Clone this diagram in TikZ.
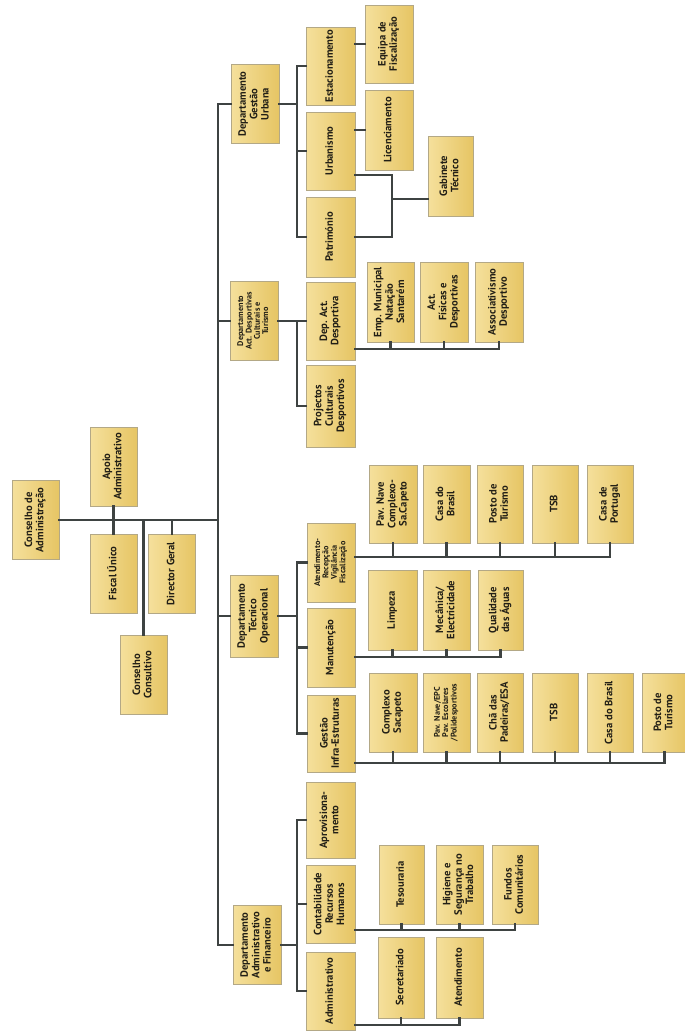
\documentclass[tikz,border=0pt]{standalone}
\usepackage{fontspec}
\setmainfont{PT Sans}
\usepackage{graphicx}
\usetikzlibrary{calc}
\definecolor{orgFillL}{HTML}{F5E09C}
\definecolor{orgFillR}{HTML}{E6C564}
\definecolor{orgEdge}{HTML}{B3A886}
\definecolor{orgLine}{HTML}{3E4342}
\definecolor{orgText}{HTML}{221F16}
\newcommand{\vt}[1]{\rotatebox{90}{\renewcommand{\arraystretch}{0.9}\begin{tabular}{@{}c@{}}#1\end{tabular}}}
\tikzset{
  unit/.style={
    draw=orgEdge, line width=0.4pt, left color=orgFillL, right color=orgFillR,
    minimum width=47pt, minimum height=79pt, inner sep=1pt,
    font=\fontsize{10.6}{12.6}\selectfont\bfseries, text=orgText
  },
  smallunit/.style={unit, font=\fontsize{8.2}{9.2}\selectfont\bfseries},
  link/.style={draw=orgLine, line width=2.3pt, line cap=rect}
}
\begin{document}
\begin{tikzpicture}[x=1pt, y=-1pt]
  \useasboundingbox[fill=white] (0,0) rectangle (685,1036);

  % topo
  \node[unit] (ca) at (35.5,520) {\vt{Conselho de\\Administração}};
  \node[unit] (apoio) at (113.5,466.5) {\vt{Apoio\\Administrativo}};
  \node[unit] (fiscal) at (113.5,573.5) {\vt{Fiscal Único}};
  \node[unit] (dg) at (172,573.5) {\vt{Director Geral}};
  \node[unit] (cc) at (143.5,675) {\vt{Conselho\\Consultivo}};

  % departamentos
  \node[unit, minimum width=48pt] (dgu) at (255,104) {\vt{Departamento\\Gestão\\Urbana}};
  \node[smallunit, minimum width=48pt] (dad) at (254,321) {\vt{Departamento\\Act. Desportivas\\Culturais e\\Turismo}};
  \node[unit, minimum width=48pt, minimum height=82pt] (dto) at (254,616) {\vt{Departamento\\Técnico\\Operacional}};
  \node[unit, minimum width=48pt] (daf) at (257,945) {\vt{Departamento\\Administrativo\\e Financeiro}};

  % gestao urbana
  \node[unit, minimum width=49pt, minimum height=78pt] (est) at (330.5,66) {\vt{Estacionamento}};
  \node[unit, minimum width=49pt, minimum height=78pt] (urb) at (330.5,151) {\vt{Urbanismo}};
  \node[unit, minimum width=49pt, minimum height=80pt] (pat) at (330.5,237) {\vt{Património}};
  \node[unit, minimum width=48pt, minimum height=78pt] (eqf) at (389,44) {\vt{Equipa de\\Fiscalização}};
  \node[unit, minimum width=48pt, minimum height=80pt] (lic) at (389,130) {\vt{Licenciamento}};
  \node[unit, minimum width=45pt, minimum height=80pt] (gab) at (450.5,176) {\vt{Gabinete\\Técnico}};

  % desporto
  \node[unit, minimum width=49pt, minimum height=78pt] (dep) at (330.5,321) {\vt{Dep. Act.\\Desportiva}};
  \node[unit, minimum width=49pt, minimum height=82pt] (proj) at (330.5,406) {\vt{Projectos\\Culturais\\Desportivos}};
  \node[unit, minimum height=80pt] (emp) at (390.5,302) {\vt{Emp. Municipal\\Natação\\Santarém}};
  \node[unit, minimum width=48pt, minimum height=80pt] (afd) at (444,302) {\vt{Act.\\Físicas e\\Desportivas}};
  \node[unit, minimum width=48pt, minimum height=80pt] (assoc) at (499,302) {\vt{Associativismo\\Desportivo}};

  % tecnico operacional
  \node[smallunit, minimum width=48pt] (atd) at (331,562.5) {\vt{Atendimento-\\Recepção\\Vigilância\\Fiscalização}};
  \node[unit, minimum width=48pt] (man) at (331,647.5) {\vt{Manutenção}};
  \node[unit, minimum width=48pt, minimum height=77pt] (gie) at (331,733.5) {\vt{Gestão\\Infra-Estruturas}};

  \node[unit, minimum width=48pt, minimum height=78pt] (pav1) at (393,504) {\vt{Pav. Nave\\Complexo-\\Sa.Capeto}};
  \node[unit, minimum height=78pt] (cbr1) at (446.5,504) {\vt{Casa do\\Brasil}};
  \node[unit, minimum width=46pt, minimum height=78pt] (pt1) at (500,504) {\vt{Posto de\\Turismo}};
  \node[unit, minimum width=46pt, minimum height=78pt] (tsb1) at (555,504) {\vt{TSB}};
  \node[unit, minimum width=46pt, minimum height=78pt] (cpt) at (610,504) {\vt{Casa de\\Portugal}};

  \node[unit, minimum width=49pt, minimum height=80pt] (lim) at (392.5,610) {\vt{Limpeza}};
  \node[unit, minimum height=80pt] (mec) at (446.5,610) {\vt{Mecânica/\\Electricidade}};
  \node[unit, minimum width=45pt, minimum height=80pt] (qa) at (500.5,610) {\vt{Qualidade\\das Águas}};

  \node[unit, minimum width=48pt] (cs) at (393,712.5) {\vt{Complexo\\Sacapeto}};
  \node[smallunit] (pav2) at (446.5,712.5) {\vt{Pav. Nave/EPC\\Pav. Escolares\\/Polidesportivos}};
  \node[unit, minimum width=46pt] (cha) at (500,712.5) {\vt{Chã das\\Padeiras/ESA}};
  \node[unit, minimum width=46pt] (tsb2) at (555,712.5) {\vt{TSB}};
  \node[unit, minimum width=46pt] (cbr2) at (610,712.5) {\vt{Casa do Brasil}};
  \node[unit, minimum width=45pt] (pt2) at (664.5,712.5) {\vt{Posto de\\Turismo}};

  % administrativo e financeiro
  \node[unit, minimum width=49pt, minimum height=76pt] (aprov) at (330.5,820) {\vt{Aprovisiona-\\mento}};
  \node[unit, minimum width=49pt, minimum height=78pt] (conta) at (330.5,904) {\vt{Contabilidade\\Recursos\\Humanos}};
  \node[unit, minimum width=49pt, minimum height=78pt] (adm) at (330.5,991) {\vt{Administrativo}};
  \node[unit, minimum width=45pt] (tes) at (401.5,884.5) {\vt{Tesouraria}};
  \node[unit] (hig) at (459.5,884.5) {\vt{Higiene e\\Segurança no\\Trabalho}};
  \node[unit, minimum width=46pt] (fc) at (515,884.5) {\vt{Fundos\\Comunitários}};
  \node[unit, minimum width=46pt, minimum height=81pt] (sec) at (401,977.5) {\vt{Secretariado}};
  \node[unit, minimum height=81pt] (ate) at (459.5,977.5) {\vt{Atendimento}};

  % ligacoes
  \coordinate (spt) at (218,104);
  \coordinate (spb) at (218,945);
  \coordinate (brk) at (297,0);
  \draw[link] (spt) -- (spb);
  \draw[link] (ca.east) -- (ca.east -| spt);
  \draw[link] (apoio.south) -- (apoio.south |- ca.east);
  \draw[link] (fiscal.north) -- (fiscal.north |- ca.east);
  \draw[link] (dg.north) -- (dg.north |- ca.east);
  \draw[link] (cc.north) -- (cc.north |- ca.east);
  \foreach \d in {dgu,dad,dto,daf} {
    \draw[link] (\d.west) -- (\d.west -| spt);
    \draw[link] (\d.east) -- (\d.east -| brk);
  }

  \draw[link] (est.west) -- (est.west -| brk) |- (pat.west);
  \draw[link] (urb.west) -- (urb.west -| brk);
  \draw[link] (eqf.west) -- (eqf.west -| est.east);
  \draw[link] (lic.west) -- (lic.west -| urb.east);
  \coordinate (gj) at (392,199);
  \draw[link] ([yshift=-24pt]urb.east) -| (gj) |- (pat.east);
  \draw[link] (gj) -- (gj -| gab.west);

  \draw[link] (dad.east) -- (dep.west);
  \draw[link] (dad.east -| brk) |- (proj.west);
  \draw[link] ([yshift=-28pt]dep.east) coordinate (dl) -| (assoc.south);
  \foreach \n in {emp,afd} \draw[link] (\n.south) -- (\n.south |- dl);

  \draw[link] (atd.west) -- (atd.west -| brk) |- (gie.west);
  \draw[link] (man.west) -- (man.west -| brk);
  \draw[link] ([yshift=5.5pt]atd.east) coordinate (al) -| (cpt.south);
  \foreach \n in {pav1,cbr1,pt1,tsb1} \draw[link] (\n.south) -- (\n.south |- al);
  \draw[link] ([yshift=-9.5pt]man.east) coordinate (ml) -| (qa.south);
  \foreach \n in {lim,mec} \draw[link] (\n.south) -- (\n.south |- ml);
  \draw[link] ([yshift=-29.5pt]gie.east) coordinate (gl) -| (pt2.south);
  \foreach \n in {cs,pav2,cha,tsb2,cbr2} \draw[link] (\n.south) -- (\n.south |- gl);

  \draw[link] (aprov.west) -- (aprov.west -| brk) |- (adm.west);
  \draw[link] (conta.west) -- (conta.west -| brk);
  \draw[link] ([yshift=-26pt]conta.east) coordinate (cl) -| (fc.south);
  \foreach \n in {tes,hig} \draw[link] (\n.south) -- (\n.south |- cl);
  \draw[link] ([yshift=-34pt]adm.east) coordinate (dl2) -| (ate.south);
  \draw[link] (sec.south) -- (sec.south |- dl2);
\end{tikzpicture}
\end{document}
